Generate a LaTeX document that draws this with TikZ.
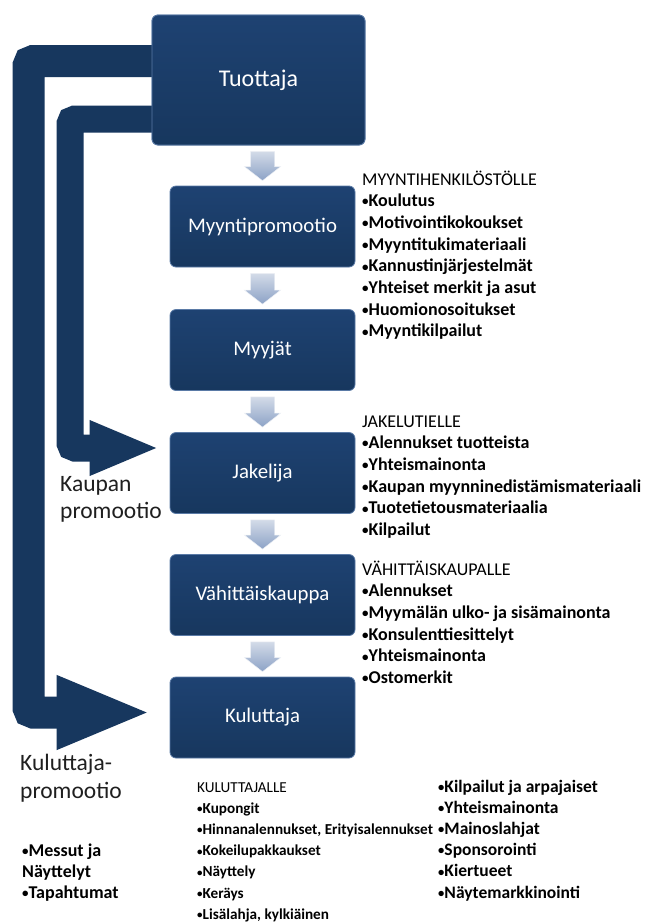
\documentclass[tikz,border=0pt]{standalone}
\usepackage{fontspec}
\usepackage{graphicx}
\setmainfont{Carlito}
\usetikzlibrary{arrows.meta,calc}

\definecolor{navy}{HTML}{17375E}
\definecolor{navytop}{HTML}{1E4272}
\definecolor{navyedge}{HTML}{5A7AA6}
\definecolor{arrowtop}{HTML}{D3DBE8}
\definecolor{arrowbot}{HTML}{8CA2C6}

% small list bullet, scaled with the current font
\newcommand\bul{\raisebox{0.04em}{\scalebox{0.72}{•}}}

\tikzset{
  stage/.style={draw=navyedge, line width=0.8pt, rounded corners=6pt,
    top color=navytop, bottom color=navy, text=white,
    font=\fontsize{20.8}{24}\selectfont, minimum width=185pt, minimum height=81pt},
  band/.style={draw=navy, rounded corners=5pt},
  % multi-line lists are placed by the baseline of their last line
  listblock/.style={anchor=base west, align=left, inner sep=0pt,
    font=\fontsize{18}{21.7}\selectfont},
  sidelabel/.style={anchor=base west, align=left, inner sep=0pt, text=black!88,
    font=\fontsize{23.5}{27}\selectfont},
  smallarrow/.style={top color=arrowtop, bottom color=arrowbot, draw=white!85!arrowbot, line width=0.4pt}
}

\begin{document}
\begin{tikzpicture}[x=1pt,y=-1pt]
\useasboundingbox (0,0) rectangle (660,922);
\fill[white] (0,0) rectangle (660,922);

% bends of the two promotion bands
\coordinate (o1) at (28.5,61);
\coordinate (o2) at (28.5,712.5);
\coordinate (i1) at (70,119);
\coordinate (i2) at (70,448);

% stage boxes
\node[stage, minimum width=213pt, minimum height=130pt,
      font=\fontsize{24}{28}\selectfont] (tuottaja) at (258.5,80) {Tuottaja};
\node[stage] (promo) at (262.5,226.5) {Myyntipromootio};
\node[stage] (myyjat) at (262.5,350) {Myyjät};
\node[stage] (jakelija) at (262.5,473) {Jakelija};
\node[stage] (vahitt) at (262.5,595) {Vähittäiskauppa};
\node[stage] (kuluttaja) at (262.5,717.5) {Kuluttaja};

% consumer promotion band: producer -> consumer
\draw[band, line width=32pt, -{Triangle[length=95pt,width=67pt]}]
  ([xshift=10pt]tuottaja.west |- o1) -- (o1) -- (o2) -- ([xshift=-18pt]kuluttaja.west |- o2);
% trade promotion band: producer -> distributor
\draw[band, line width=27pt, -{Triangle[length=70pt,width=50pt]}]
  ([xshift=10pt]tuottaja.west |- i1) -- (i1) -- (i2) -- ([xshift=-10pt]jakelija.west |- i2);

% producer box again, over the band ends
\node[stage, minimum width=213pt, minimum height=130pt,
      font=\fontsize{24}{28}\selectfont] (tuottajaTop) at (tuottaja) {Tuottaja};

% small arrows between the stages
\foreach \a/\b in {tuottaja/promo, promo/myyjat, myyjat/jakelija, jakelija/vahitt, vahitt/kuluttaja}{
  \shade[smallarrow] let \p1=(\a.south), \p2=(\b.north) in
    (\x2-12pt,\y1-6pt) -- (\x2+12pt,\y1-6pt) -- (\x2+12pt,\y2+19pt) -- (\x2+18pt,\y2+19pt)
    -- (\x2,\y2+5pt) -- (\x2-18pt,\y2+19pt) -- (\x2-12pt,\y2+19pt) -- cycle;
}

% promotion lists
\node[listblock] (myynti) at (362,336.9) {MYYNTIHENKILÖSTÖLLE\\ \bfseries \bul Koulutus\\ \bfseries \bul Motivointikokoukset\\
  \bfseries \bul Myyntitukimateriaali\\ \bfseries \bul Kannustinjärjestelmät\\ \bfseries \bul Yhteiset merkit ja asut\\
  \bfseries \bul Huomionosoitukset\\ \bfseries \bul Myyntikilpailut};
\node[listblock] (jakelu) at (362,535.5) {JAKELUTIELLE\\ \bfseries \bul Alennukset tuotteista\\ \bfseries \bul Yhteismainonta\\
  \bfseries \bul Kaupan myynninedistämismateriaali\\ \bfseries \bul Tuotetietousmateriaalia\\ \bfseries \bul Kilpailut};
\node[listblock] (vahlist) at (362,683.5) {VÄHITTÄISKAUPALLE\\ \bfseries \bul Alennukset\\ \bfseries \bul Myymälän ulko- ja sisämainonta\\
  \bfseries \bul Konsulenttiesittelyt\\ \bfseries \bul Yhteismainonta\\ \bfseries \bul Ostomerkit};
\node[listblock, font=\fontsize{15.2}{21.2}\selectfont] (kulA) at (197,919.2) {KULUTTAJALLE\\ \bfseries \bul Kupongit\\
  \bfseries \bul Hinnanalennukset, Erityisalennukset\\ \bfseries \bul Kokeilupakkaukset\\ \bfseries \bul Näyttely\\
  \bfseries \bul Keräys\\ \bfseries \bul Lisälahja, kylkiäinen};
\node[listblock, font=\bfseries\fontsize{17.5}{21.2}\selectfont] (kulB) at (438,898) {\bul Kilpailut ja arpajaiset\\ \bul Yhteismainonta\\
  \bul Mainoslahjat\\ \bul Sponsorointi\\ \bul Kiertueet\\ \bul Näytemarkkinointi};
\node[listblock, font=\bfseries\fontsize{18}{21}\selectfont] (messut) at (22,898) {\bul Messut ja\\ Näyttelyt\\ \bul Tapahtumat};

% band labels
\node[sidelabel] (kaupan) at (60,518) {Kaupan\\ promootio};
\node[sidelabel, font=\fontsize{23.5}{28}\selectfont] (kulprom) at (20,798) {Kuluttaja-\\ promootio};
\end{tikzpicture}
\end{document}
